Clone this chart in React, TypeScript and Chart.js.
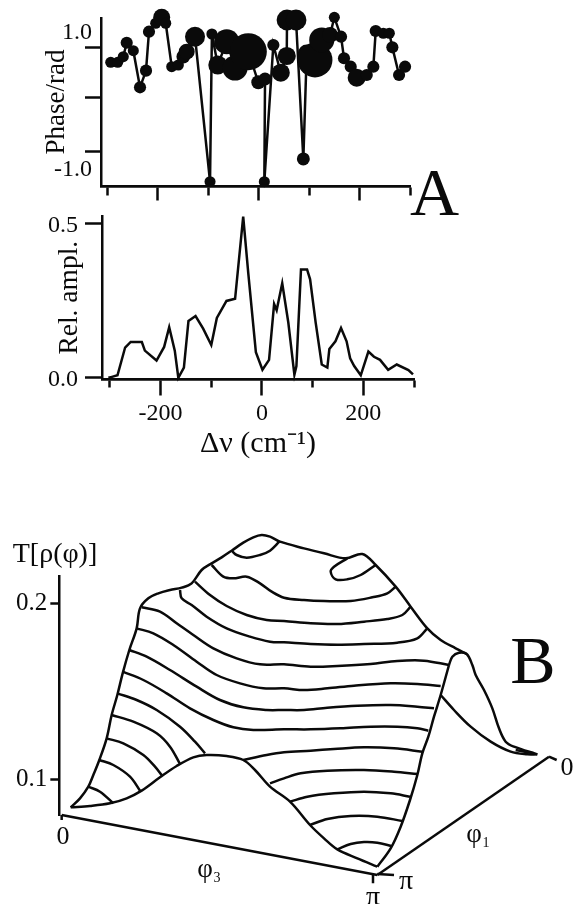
import React, { useEffect, useRef } from "react";
import { Chart, registerables } from "chart.js";

Chart.register(...registerables);

const FONT = '"Liberation Serif", "Times New Roman", serif';
const INK = "#0a0a0a";

// ---------- Panel A, phase ----------
const phaseDeltaNu = [-293.7, -279.9, -268.8, -262, -248.9, -235.6, -223.7, -217.8, -204.5, -192.6, -184.6, -172.7, -159.6, -149.7, -143, -126.5, -96.7, -93, -81.4, -63.6, -47.1, -20.7, -0.9, 12.4, 11, 28.9, 43.6, 55.5, 56, 73.9, 88.4, 95.1, 111.6, 124.9, 141.4, 149.9, 163.2, 169.1, 182.4, 194.3, 214.2, 227.3, 232, 247.1, 259, 265, 278.3, 290.2];
const phaseValues = [0.572, 0.572, 0.654, 0.858, 0.742, 0.207, 0.45, 1.019, 1.142, 1.229, 1.142, 0.508, 0.533, 0.654, 0.727, 0.946, -1.171, 0.985, 0.533, 0.873, 0.489, 0.727, 0.28, 0.328, -1.171, 0.825, 0.42, 0.664, 1.19, 1.19, -0.839, 0.708, 0.606, 0.898, 0.971, 1.229, 0.946, 0.631, 0.508, 0.347, 0.387, 0.508, 1.029, 0.996, 0.996, 0.791, 0.387, 0.508];
const phaseWeights = [0.02, 0.02, 0.02, 0.04, 0.02, 0.04, 0.04, 0.04, 0.02, 0.13, 0.02, 0.02, 0.02, 0.07, 0.11, 0.185, 0.02, 0.02, 0.165, 0.28, 0.28, 0.5, 0.075, 0.055, 0.02, 0.04, 0.15, 0.15, 0.2, 0.2, 0.055, 0.13, 0.46, 0.28, 0.11, 0.02, 0.04, 0.04, 0.04, 0.15, 0.04, 0.04, 0.04, 0.02, 0.02, 0.04, 0.04, 0.04];
const phaseTickMarks = [0.781, 0.051, -0.723];
const phaseTickLabels = [1, -1];

// ---------- Panel A, amplitude ----------
const amplDeltaNu = [-303, -296, -285, -270, -259, -237, -231, -208, -193, -183, -172, -165, -154, -145, -131, -116, -100, -89, -70, -53, -37, -27, -12, 1, 14, 24, 29, 40, 52, 64, 68, 77, 89, 95, 106, 118, 129, 133, 145, 156, 167, 174, 182, 195, 210, 221, 233, 249, 266, 289, 298];
const amplValues = [0, 0.003, 0.008, 0.098, 0.116, 0.116, 0.088, 0.056, 0.1, 0.164, 0.088, 0, 0.033, 0.184, 0.2, 0.159, 0.106, 0.194, 0.249, 0.256, 0.522, 0.339, 0.083, 0.026, 0.058, 0.239, 0.219, 0.306, 0.179, 0.01, 0.038, 0.351, 0.351, 0.319, 0.179, 0.043, 0.033, 0.093, 0.118, 0.161, 0.118, 0.063, 0.038, 0.008, 0.085, 0.068, 0.058, 0.026, 0.043, 0.025, 0.011];
const amplTicks = [0.5, 0];
const majorDeltaNuTicks = [-200, 0, 200];
const minorDeltaNuTicks = [-300, -100, 100, 300];

// ---------- Panel B, surface traces in projected plot units ----------
const backOutline = [[212, 862], [240, 835], [265, 800], [280, 765], [298, 720], [320, 655], [335, 585], [352, 525], [368, 460], [388, 390], [410, 325], [420, 265], [445, 235], [475, 220], [510, 210], [545, 203], [575, 190], [605, 150], [635, 130], [665, 112], [695, 92], [730, 68], [760, 52], [785, 45], [810, 50], [840, 65], [912, 85], [972, 100], [1037, 115], [1087, 102], [1127, 135], [1187, 200], [1232, 260], [1282, 325], [1322, 360], [1367, 385], [1400, 402]];
const tailRidge = [[1347, 435], [1357, 410], [1377, 398], [1400, 402], [1417, 435], [1427, 465], [1452, 510], [1477, 565], [1497, 625], [1517, 665], [1542, 680], [1612, 703]];
const tailInner = [[1547, 690], [1602, 700]];
const tailBase = [[1322, 525], [1362, 570], [1412, 620], [1472, 665], [1532, 695], [1582, 703], [1612, 703]];
const sideEdge = [[1347, 435], [1322, 525], [1302, 590], [1285, 650], [1267, 700], [1252, 765], [1230, 840], [1202, 920], [1172, 985], [1132, 1040]];
const frontEdge = [[212, 862], [270, 858], [330, 850], [380, 835], [425, 812], [480, 772], [530, 738], [580, 712], [620, 705], [680, 708], [730, 720], [765, 750], [810, 800], [870, 845], [930, 915], [972, 955], [1012, 988], [1072, 1015], [1132, 1040]];
const contour1 = [[635, 135], [670, 170], [700, 175], [740, 170], [780, 190], [815, 215], [852, 233], [912, 240], [972, 243], [1052, 243], [1117, 232], [1162, 220], [1187, 200]];
const contour2 = [[585, 185], [630, 225], [680, 258], [740, 285], [800, 300], [852, 303], [932, 310], [1012, 312], [1092, 305], [1162, 297], [1207, 285], [1232, 260]];
const contour3 = [[540, 210], [545, 235], [575, 255], [620, 290], [680, 325], [750, 350], [810, 365], [852, 367], [932, 372], [1012, 374], [1092, 372], [1192, 368], [1252, 355], [1282, 325]];
const contour4 = [[425, 262], [480, 275], [530, 310], [580, 345], [640, 385], [710, 415], [780, 433], [852, 433], [932, 440], [1012, 438], [1112, 432], [1192, 423], [1272, 422], [1347, 435]];
const contour5 = [[410, 325], [460, 340], [520, 375], [590, 425], [650, 465], [720, 490], [790, 505], [852, 505], [912, 510], [982, 505], [1062, 497], [1172, 490], [1252, 492], [1322, 498]];
const contour6 = [[388, 390], [440, 410], [510, 450], [590, 500], [660, 540], [730, 562], [800, 570], [852, 570], [912, 570], [982, 563], [1072, 557], [1172, 555], [1252, 560], [1302, 565]];
const contour7 = [[368, 455], [430, 480], [500, 520], [570, 565], [640, 600], [700, 622], [760, 630], [852, 628], [932, 628], [1022, 625], [1112, 620], [1192, 620], [1252, 625], [1285, 632]];
const contour8 = [[352, 520], [410, 540], [470, 570], [540, 620], [585, 665], [615, 700]];
const contour9 = [[335, 585], [400, 605], [470, 640], [510, 680], [540, 732]];
const contour10 = [[320, 655], [370, 670], [430, 705], [465, 740], [487, 768]];
const contour11 = [[298, 720], [340, 735], [390, 770], [420, 812]];
const contour12 = [[265, 800], [300, 815], [340, 850]];
const contour8Right = [[730, 720], [800, 705], [852, 697], [932, 692], [1002, 687], [1092, 682], [1182, 685], [1267, 695]];
const contour9Right = [[810, 790], [852, 775], [902, 760], [982, 752], [1092, 750], [1182, 755], [1252, 762]];
const contour10Right = [[870, 845], [922, 830], [1002, 820], [1092, 815], [1172, 820], [1230, 830]];
const contour11Right = [[930, 915], [982, 897], [1052, 888], [1132, 890], [1207, 903]];
const contour12Right = [[1012, 988], [1052, 972], [1092, 966], [1132, 968], [1174, 978]];
const summitLeft = [[695, 92], [710, 105], [740, 113], [780, 105], [810, 92], [838, 65]];
const summitRight = [[1042, 115], [1002, 140], [992, 155], [1007, 178], [1042, 178], [1082, 165], [1127, 135]];
const surfaceTraces = [backOutline, tailRidge, tailInner, tailBase, sideEdge, frontEdge, contour1, contour2, contour3, contour4, contour5, contour6, contour7, contour8, contour9, contour10, contour11, contour12, contour8Right, contour9Right, contour10Right, contour11Right, contour12Right, summitLeft, summitRight];

const phi3Axis = [[185, 885], [1132, 1065]];
const phi1Axis = [[1132, 1065], [1647, 710]];
const axisStubs = [
  [[185, 885], [185, 900]],
  [[1119, 1065], [1119, 1090]],
  [[1132, 1062], [1182, 1065]],
  [[1647, 710], [1670, 720]],
];
const tAxisTicks = [250, 778];
const tAxisLabels = ["0.2", "0.1"];

type Txt = { t: string; x: number; y: number; size: number; base?: CanvasTextBaseline };

const textPlugin = (id: string, items: Txt[]) => ({
  id,
  afterDraw(chart: any) {
    const c = chart.ctx;
    c.save();
    c.fillStyle = INK;
    c.textAlign = "center";
    for (const i of items) {
      c.font = `${i.size}px ${FONT}`;
      c.textBaseline = i.base ?? "middle";
      c.fillText(i.t, i.x, i.y);
    }
    c.restore();
  },
});

const setTicks = (vals: number[]) => (axis: any) => {
  axis.ticks = vals.map((value) => ({ value }));
};

const fixWidth = (w: number) => (s: any) => {
  s.width = w;
};

const horizontalAxis = (vals: number[], min: number, max: number, yVal: number, len: number, extra: any = {}) => ({
  type: "linear",
  min,
  max,
  position: { y: yVal },
  afterBuildTicks: setTicks(vals),
  border: { display: true, color: INK, width: 2.5 },
  grid: { drawOnChartArea: false, drawTicks: true, tickLength: len, tickColor: INK, tickWidth: 2.5 },
  ticks: { display: false, autoSkip: false, maxRotation: 0, minRotation: 0 },
  ...extra,
});

const base = {
  responsive: false,
  animation: false,
  devicePixelRatio: 1,
  plugins: { legend: { display: false }, tooltip: { enabled: false }, title: { display: false } },
};

function build(up: HTMLCanvasElement, low: HTMLCanvasElement, sur: HTMLCanvasElement) {
  const xMinU = -313;
  const xMaxU = 300;
  const yMinU = -1.234;
  const yMaxU = 1.219;
  const upper = new Chart(up, {
    type: "scatter",
    data: {
      datasets: [
        {
          data: phaseDeltaNu.map((x, i) => ({ x, y: phaseValues[i] })),
          showLine: true,
          borderColor: INK,
          borderWidth: 2.5,
          backgroundColor: INK,
          pointBackgroundColor: INK,
          pointBorderWidth: 0,
          pointRadius: (c: any) => 5 + 27 * phaseWeights[c.dataIndex],
          clip: false,
        },
      ],
    },
    options: {
      ...base,
      layout: { padding: { left: 40.4, right: 164, top: 18, bottom: 44 } },
      scales: {
        x: horizontalAxis(majorDeltaNuTicks, xMinU, xMaxU, yMinU, 13),
        xMinor: horizontalAxis(minorDeltaNuTicks, xMinU, xMaxU, yMinU, 8),
        y: {
          type: "linear",
          min: yMinU,
          max: yMaxU,
          position: "left",
          afterBuildTicks: setTicks([...phaseTickLabels, ...phaseTickMarks]),
          afterFit: fixWidth(60.6),
          border: { display: true, color: INK, width: 2.5 },
          grid: {
            drawOnChartArea: false,
            tickLength: 16,
            tickWidth: 2.5,
            tickColor: (c: any) => (phaseTickMarks.includes(c.tick?.value) ? INK : "rgba(0,0,0,0)"),
          },
          ticks: {
            autoSkip: false,
            padding: -7,
            color: INK,
            font: { family: FONT, size: 24 },
            callback: (v: any) => (phaseTickLabels.includes(v) ? Number(v).toFixed(1) : ""),
          },
          title: { display: true, text: "Phase/rad", color: INK, font: { family: FONT, size: 27 }, padding: 0 },
        },
      },
    },
    plugins: [textPlugin("panelA", [{ t: "A", x: 434.5, y: 215, size: 68, base: "alphabetic" }])],
  } as any);

  const xMinL = -315.6;
  const xMaxL = 300;
  const yMinL = -0.004;
  const yMaxL = 0.523;
  const lower = new Chart(low, {
    type: "scatter",
    data: {
      datasets: [
        {
          data: amplDeltaNu.map((x, i) => ({ x, y: amplValues[i] })),
          showLine: true,
          borderColor: INK,
          borderWidth: 2.5,
          pointRadius: 0,
          clip: false,
        },
      ],
    },
    options: {
      ...base,
      layout: { padding: { left: 30, right: 160, top: 9, bottom: 86 } },
      scales: {
        x: horizontalAxis(majorDeltaNuTicks, xMinL, xMaxL, yMinL, 15, {
          afterFit: (s: any) => {
            s.height = 83;
          },
          ticks: {
            display: true,
            autoSkip: false,
            maxRotation: 0,
            minRotation: 0,
            padding: 5,
            color: INK,
            font: { family: FONT, size: 24 },
          },
          title: { display: true, text: "Δν (cm⁻¹)", color: INK, font: { family: FONT, size: 30 }, padding: 0 },
        }),
        xMinor: horizontalAxis(minorDeltaNuTicks, xMinL, xMaxL, yMinL, 7),
        y: {
          type: "linear",
          min: yMinL,
          max: yMaxL,
          position: "left",
          afterBuildTicks: setTicks(amplTicks),
          afterFit: fixWidth(72),
          border: { display: true, color: INK, width: 2.5 },
          grid: { drawOnChartArea: false, tickLength: 17, tickWidth: 2.5, tickColor: INK },
          ticks: {
            autoSkip: false,
            padding: 7,
            labelOffset: 2,
            color: INK,
            font: { family: FONT, size: 24 },
            callback: (v: any) => Number(v).toFixed(1),
          },
          title: {
            display: true,
            text: "Rel. ampl.",
            color: INK,
            font: { family: FONT, size: 27.5 },
            padding: { top: 23.5, bottom: 0 },
          },
        },
      },
    },
  } as any);

  const traceSet = (pts: number[][], tension: number) => ({
    data: pts.map(([x, y]) => ({ x, y })),
    showLine: true,
    borderColor: INK,
    borderWidth: 2.5,
    pointRadius: 0,
    tension,
    clip: false,
  });

  const surface = new Chart(sur, {
    type: "scatter",
    data: {
      datasets: [
        ...surfaceTraces.map((t) => traceSet(t, 0.35)),
        traceSet(phi3Axis, 0),
        traceSet(phi1Axis, 0),
        ...axisStubs.map((t) => traceSet(t, 0)),
      ],
    },
    options: {
      ...base,
      layout: { padding: { left: 0, right: 0, top: 56, bottom: 89 } },
      scales: {
        x: { type: "linear", display: false, min: 178, max: 1722 },
        y: {
          type: "linear",
          reverse: true,
          min: 168,
          max: 885,
          position: "left",
          afterBuildTicks: setTicks(tAxisTicks),
          afterFit: fixWidth(59.33),
          border: { display: true, color: INK, width: 2.5 },
          grid: { drawOnChartArea: false, tickLength: 9, tickWidth: 2.5, tickColor: INK },
          ticks: {
            autoSkip: false,
            padding: 3,
            color: INK,
            font: { family: FONT, size: 25 },
            callback: (v: any) => tAxisLabels[tAxisTicks.indexOf(v)] ?? "",
          },
        },
      },
    },
    plugins: [
      textPlugin("panelB", [
        { t: "T[ρ(φ)]", x: 55, y: 35, size: 28 },
        { t: "B", x: 533, y: 163, size: 68, base: "alphabetic" },
        { t: "0", x: 63, y: 317, size: 26 },
        { t: "π", x: 373, y: 378, size: 28 },
        { t: "π", x: 406, y: 362, size: 28 },
        { t: "0", x: 567, y: 248, size: 26 },
        { t: "φ", x: 205, y: 350, size: 27 },
        { t: "3", x: 217, y: 358, size: 14 },
        { t: "φ", x: 474, y: 315, size: 27 },
        { t: "1", x: 486, y: 323, size: 14 },
      ]),
    ],
  } as any);

  return [upper, lower, surface];
}

export default function App() {
  const a = useRef<HTMLCanvasElement>(null);
  const b = useRef<HTMLCanvasElement>(null);
  const c = useRef<HTMLCanvasElement>(null);
  useEffect(() => {
    const charts = build(a.current!, b.current!, c.current!);
    return () => charts.forEach((ch) => ch.destroy());
  }, []);
  const abs = (top: number): React.CSSProperties => ({ position: "absolute", left: 0, top, display: "block" });
  return (
    <div style={{ position: "absolute", left: 0, top: 0, width: 574, height: 904, background: "#fff", overflow: "hidden" }}>
      <canvas ref={a} width={574} height={230} style={abs(0)} />
      <canvas ref={b} width={574} height={270} style={abs(195)} />
      <canvas ref={c} width={574} height={384} style={abs(520)} />
    </div>
  );
}
